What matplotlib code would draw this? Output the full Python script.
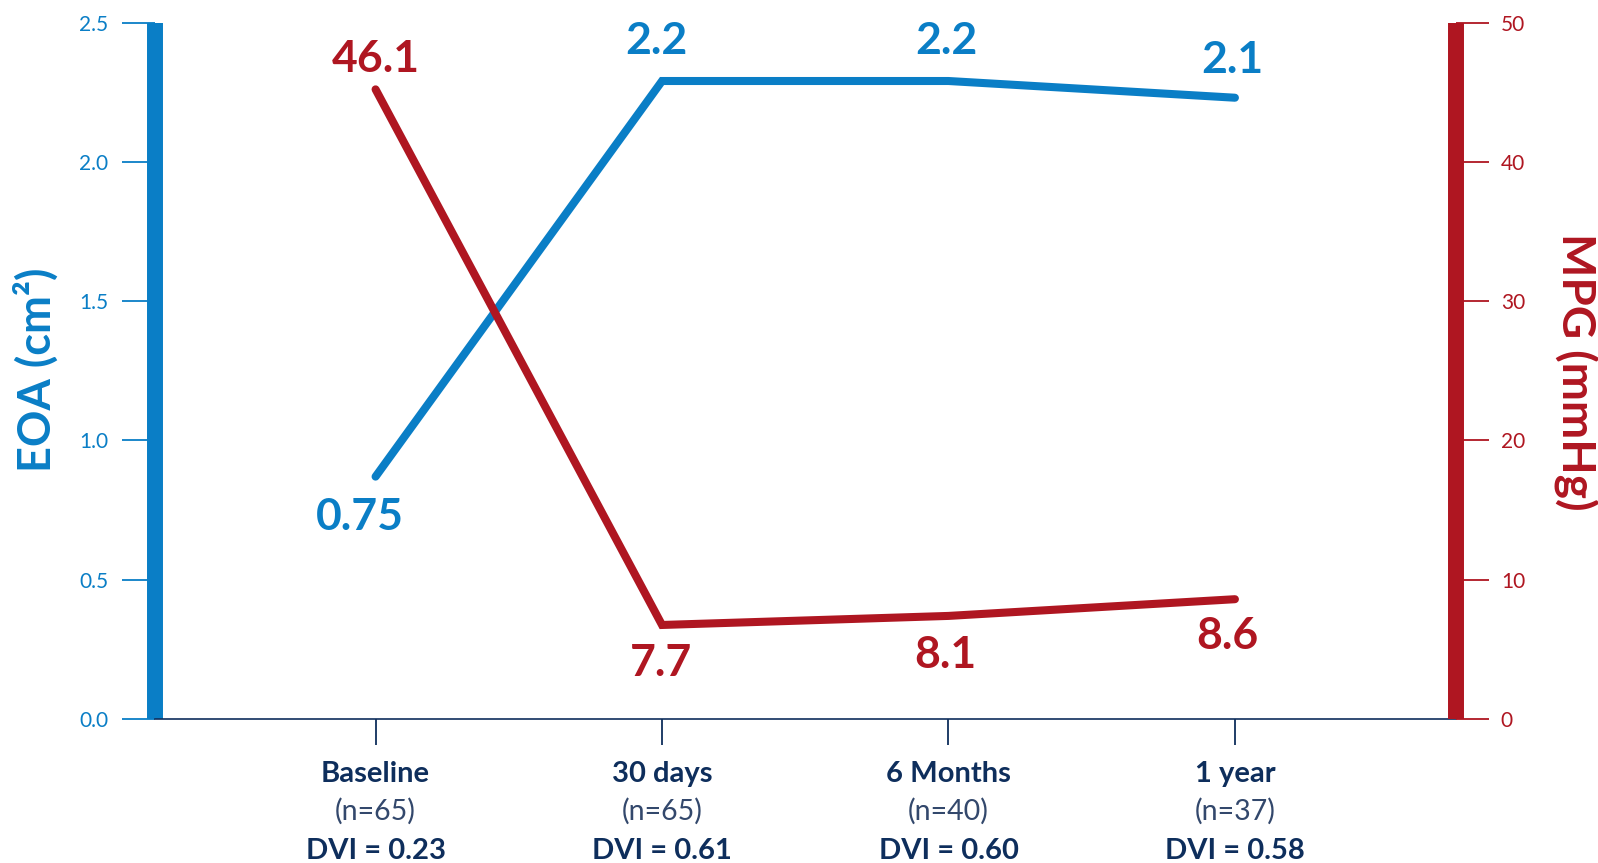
import matplotlib
matplotlib.use("Agg")
import matplotlib.pyplot as plt

plt.rcParams['font.family'] = ['Lato', 'DejaVu Sans']

# ---- data ----
categories = ["Baseline", "30 days", "6 Months", "1 year"]
n_labels = ["(n=65)", "(n=65)", "(n=40)", "(n=37)"]
dvi_labels = ["DVI = 0.23", "DVI = 0.61", "DVI = 0.60", "DVI = 0.58"]
eoa_values = [0.87, 2.29, 2.29, 2.23]          # plotted line (cm²)
eoa_labels = ["0.75", "2.2", "2.2", "2.1"]
mpg_values = [45.2, 6.75, 7.4, 8.6]            # plotted line (mmHg)
mpg_labels = ["46.1", "7.7", "8.1", "8.6"]
eoa_ticks = [0.0, 0.5, 1.0, 1.5, 2.0, 2.5]
mpg_ticks = [0, 10, 20, 30, 40, 50]

# ---- styles ----
BLUE = "#0A7EC6"
RED = "#AF1621"
NAVY = "#0E2E5C"
eoa_offsets = [(-16, -53), (-6, 27), (-2, 27), (-3, 25)]   # pixel offsets of value labels (baseline)
mpg_offsets = [(0, 17), (-1, -51), (-3, -52), (-8, -50)]

fig = plt.figure(figsize=(15.98, 8.63), dpi=100)
ax = fig.add_axes([155 / 1598, 1 - 719 / 863, (1455.5 - 155) / 1598, (719 - 22.5) / 863])
ax2 = ax.twinx()

x = list(range(len(categories)))

# EOA line
ax.plot(x, eoa_values, color=BLUE, lw=5.8, solid_capstyle='round',
        solid_joinstyle='miter', clip_on=False, zorder=3)
ax.set_ylim(0, 2.5)
ax.set_xlim(-0.77, 3.77)
ax.set_yticks(eoa_ticks)
ax.set_yticklabels([f"{t:.1f}" for t in eoa_ticks])

# MPG line
ax2.plot(x, mpg_values, color=RED, lw=5.8, solid_capstyle='round',
         solid_joinstyle='miter', clip_on=False, zorder=3)
ax2.set_ylim(0, 50)
ax2.set_yticks(mpg_ticks)
ax2.set_yticklabels([str(t) for t in mpg_ticks])

# spines
for s in ["top", "right"]:
    ax.spines[s].set_visible(False)
for s in ["top", "left", "bottom"]:
    ax2.spines[s].set_visible(False)
ax.spines["left"].set_color(BLUE)
ax.spines["left"].set_linewidth(11.5)
ax.spines["left"].set_capstyle("butt")
ax2.spines["right"].set_color(RED)
ax2.spines["right"].set_linewidth(11.5)
ax2.spines["right"].set_capstyle("butt")
ax.spines["bottom"].set_color(NAVY)
ax.spines["bottom"].set_linewidth(1.2)

# ticks
ax.tick_params(axis='y', length=23.8, width=1.3, colors=BLUE, pad=10, labelsize=15)
ax2.tick_params(axis='y', length=24, width=1.3, colors=RED, pad=8.6, labelsize=15)
ax.set_xticks(x)
ax.set_xticklabels([""] * len(x))
ax.tick_params(axis='x', length=18.7, width=1.3, colors=NAVY)

# category labels (three lines)
xt = ax.get_xaxis_transform()
for i in x:
    ax.annotate(categories[i], xy=(i, 0), xycoords=xt, xytext=(0, -63),
                textcoords='offset pixels', ha='center', va='baseline',
                fontsize=21, fontweight='bold', color=NAVY, annotation_clip=False)
    ax.annotate(n_labels[i], xy=(i, 0), xycoords=xt, xytext=(0, -101),
                textcoords='offset pixels', ha='center', va='baseline',
                fontsize=20.5, fontweight='normal', color="#33486C", annotation_clip=False)
    ax.annotate(dvi_labels[i], xy=(i, 0), xycoords=xt, xytext=(0, -140),
                textcoords='offset pixels', ha='center', va='baseline',
                fontsize=21, fontweight='bold', color=NAVY, annotation_clip=False)

# value labels
for i in x:
    ax.annotate(eoa_labels[i], xy=(i, eoa_values[i]), xytext=eoa_offsets[i],
                textcoords='offset pixels', ha='center', va='baseline',
                fontsize=32, fontweight='bold', color=BLUE, annotation_clip=False)
    ax2.annotate(mpg_labels[i], xy=(i, mpg_values[i]), xytext=mpg_offsets[i],
                 textcoords='offset pixels', ha='center', va='baseline',
                 fontsize=32, fontweight='bold', color=RED, annotation_clip=False)

# axis titles
fig.text(36 / 1598, 1 - 370 / 863, "EOA (cm²)", rotation=90, ha='center', va='center',
         fontsize=32.5, fontweight='bold', color=BLUE)
fig.text(1576 / 1598, 1 - 372 / 863, "MPG (mmHg)", rotation=270, ha='center', va='center',
         fontsize=33, fontweight='bold', color=RED)

fig.savefig("out.png", dpi=100)
